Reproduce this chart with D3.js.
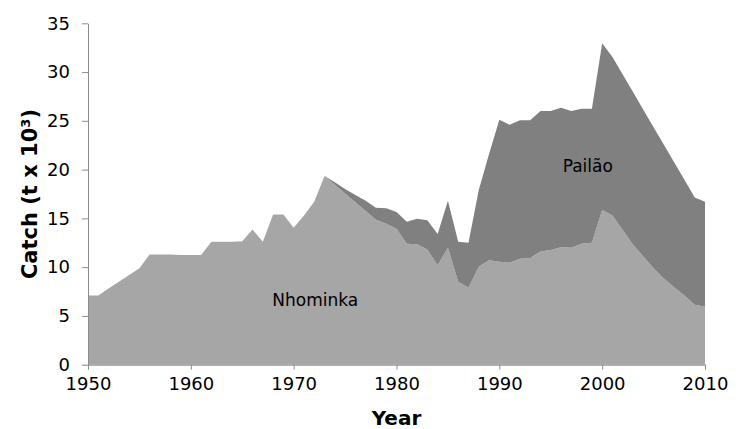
<!DOCTYPE html>
<html>
<head>
<meta charset="utf-8">
<script src="https://d3js.org/d3.v7.min.js"></script>
<style>
    body {
        margin: 0;
        background: #fff;
    }

    .domain,
    .tick line {
        stroke: #8c8c8c;
    }

    .tick text {
        font-family: "DejaVu Sans", sans-serif;
        font-size: 18px;
        fill: #000;
    }
</style>
</head>

<body>
<script>
    const years = [1950, 1951, 1952, 1953, 1954, 1955, 1956, 1957, 1958, 1959,
        1960, 1961, 1962, 1963, 1964, 1965, 1966, 1967, 1968, 1969,
        1970, 1971, 1972, 1973, 1974, 1975, 1976, 1977, 1978, 1979,
        1980, 1981, 1982, 1983, 1984, 1985, 1986, 1987, 1988, 1989,
        1990, 1991, 1992, 1993, 1994, 1995, 1996, 1997, 1998, 1999,
        2000, 2001, 2002, 2003, 2004, 2005, 2006, 2007, 2008, 2009, 2010];

    // catch, thousand tonnes
    const nhominka = [7.1, 7.1, 7.8, 8.5, 9.2, 9.9, 11.3, 11.3, 11.3, 11.25,
        11.25, 11.25, 12.6, 12.6, 12.6, 12.65, 13.85, 12.6, 15.4, 15.4,
        14.05, 15.3, 16.7, 19.35, 18.45, 17.55, 16.65, 15.75, 14.85, 14.45,
        13.95, 12.4, 12.35, 11.8, 10.2, 12.0, 8.5, 7.9, 10.05, 10.7,
        10.55, 10.45, 10.85, 10.95, 11.6, 11.75, 12.05, 12.0, 12.4, 12.5,
        15.85, 15.3, 13.8, 12.3, 11.1, 9.9, 8.85, 7.95, 7.1, 6.15, 5.95];

    const pailao = [0, 0, 0, 0, 0, 0, 0, 0, 0, 0,
        0, 0, 0, 0, 0, 0, 0, 0, 0, 0,
        0, 0, 0, 0, 0.25, 0.45, 0.75, 1.05, 1.25, 1.6,
        1.7, 2.25, 2.6, 3.0, 3.2, 4.8, 4.1, 4.6, 7.85, 10.9,
        14.55, 14.15, 14.2, 14.1, 14.4, 14.25, 14.3, 14.0, 13.85, 13.75,
        17.1, 16.25, 15.95, 15.65, 15.05, 14.45, 13.7, 12.8, 11.85, 11.0, 10.75];

    const xTicks = [1950, 1960, 1970, 1980, 1990, 2000, 2010];
    const yTicks = [0, 5, 10, 15, 20, 25, 30, 35];

    const width = 744,
        height = 429;
    const svg = d3.select("body").append("svg").attr("width", width).attr("height", height);

    const x = d3.scaleLinear().domain([1950, 2010]).range([88, 705]);
    const y = d3.scaleLinear().domain([0, 35]).range([364.7, 23.3]);

    const rows = years.map((yr, i) => ({ year: yr, Nhominka: nhominka[i], "Pailão": pailao[i] }));
    const series = d3.stack().keys(["Nhominka", "Pailão"])(rows);
    const colors = { "Nhominka": "#a6a6a6", "Pailão": "#808080" };

    const area = d3.area()
        .x(d => x(d.data.year))
        .y0(d => y(d[0]))
        .y1(d => y(d[1]));

    svg.selectAll("path.area")
        .data(series)
        .join("path")
        .attr("class", "area")
        .attr("fill", d => colors[d.key])
        .attr("d", area);

    svg.append("g")
        .attr("transform", `translate(0,${y(0)})`)
        .call(d3.axisBottom(x).tickValues(xTicks).tickFormat(d => d)
            .tickSize(5).tickSizeOuter(0).tickPadding(8));

    svg.append("g")
        .attr("transform", `translate(${x(1950)},0)`)
        .call(d3.axisLeft(y).tickValues(yTicks).tickSize(6).tickSizeOuter(0).tickPadding(12));

    // series labels
    const lab = svg.append("g")
        .attr("font-family", "DejaVu Sans, sans-serif")
        .attr("font-size", 17)
        .attr("text-anchor", "middle")
        .attr("fill", "#000");
    lab.append("text").attr("x", x(1972.1)).attr("y", y(6.0)).text("Nhominka");
    lab.append("text").attr("x", x(1998.6)).attr("y", y(19.8)).text("Pailão");

    // axis titles
    svg.append("text")
        .attr("x", (x(1950) + x(2010)) / 2)
        .attr("y", 425)
        .attr("text-anchor", "middle")
        .attr("font-family", "DejaVu Sans, sans-serif")
        .attr("font-weight", "bold")
        .attr("font-size", 20)
        .text("Year");

    svg.append("text")
        .attr("transform", `translate(37,${(y(0) + y(35)) / 2}) rotate(-90)`)
        .attr("text-anchor", "middle")
        .attr("font-family", "DejaVu Sans, sans-serif")
        .attr("font-weight", "bold")
        .attr("font-size", 21)
        .text("Catch (t x 10³)");
</script>
</body>
</html>
